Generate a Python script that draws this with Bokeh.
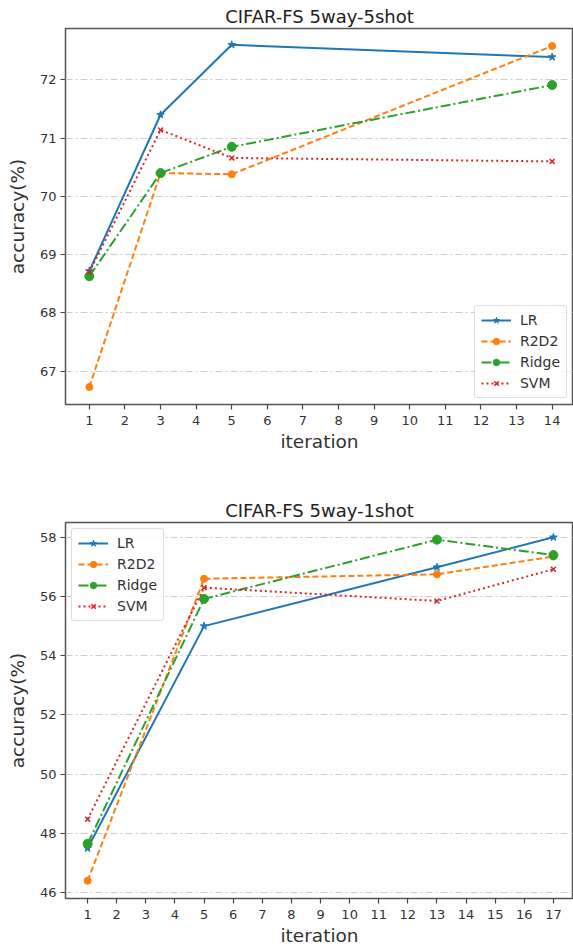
from bokeh.plotting import figure
from bokeh.layouts import column
from bokeh.models import FixedTicker, Range1d, Legend, LegendItem
from bokeh.embed import file_html
from bokeh.resources import INLINE

# ---- data ----
methods = ["LR", "R2D2", "Ridge", "SVM"]
colors = ["#1f77b4", "#ff7f0e", "#2ca02c", "#d62728"]
dashes = ["solid", "6 3", "10 3 2 3", "2 3"]
markers = ["star", "circle", "circle", "x"]
msizes = [8, 7, 9, 7]

x5 = [1, 3, 5, 14]
acc5_LR = [68.72, 71.40, 72.60, 72.39]
acc5_R2D2 = [66.73, 70.40, 70.38, 72.58]
acc5_Ridge = [68.63, 70.40, 70.85, 71.91]
acc5_SVM = [68.70, 71.14, 70.66, 70.60]
xticks5 = [1, 2, 3, 4, 5, 6, 7, 8, 9, 10, 11, 12, 13, 14]
yticks5 = [67, 68, 69, 70, 71, 72]

x1 = [1, 5, 13, 17]
acc1_LR = [47.50, 55.00, 56.99, 58.00]
acc1_R2D2 = [46.40, 56.60, 56.75, 57.35]
acc1_Ridge = [47.65, 55.92, 57.92, 57.40]
acc1_SVM = [48.48, 56.30, 55.85, 56.92]
xticks1 = [1, 2, 3, 4, 5, 6, 7, 8, 9, 10, 11, 12, 13, 14, 15, 16, 17]
yticks1 = [46, 48, 50, 52, 54, 56, 58]

FONT = "DejaVu Sans"


def make(title, xs, series, xticks, yticks, xr, yr, h, mb_top, mb_bot, legend_loc):
    p = figure(width=573, height=h, output_backend="svg", toolbar_location=None,
               x_range=Range1d(*xr), y_range=Range1d(*yr), title=title,
               min_border_left=65, min_border_right=0,
               min_border_top=mb_top, min_border_bottom=mb_bot)
    p.title.align = "center"
    p.title.text_font = FONT
    p.title.text_font_style = "normal"
    p.title.text_font_size = "18px"
    p.title.text_color = "#222222"
    p.title.standoff = 3
    p.title.offset = 0
    p.outline_line_color = "#555555"
    p.outline_line_width = 1.5
    p.xgrid.visible = False
    p.ygrid.grid_line_color = "#cccccc"
    p.ygrid.grid_line_dash = "7 3 2 3"
    p.ygrid.grid_line_width = 1
    p.ygrid.ticker = FixedTicker(ticks=yticks)
    p.xaxis.ticker = FixedTicker(ticks=xticks)
    p.yaxis.ticker = FixedTicker(ticks=yticks)
    for ax in (p.xaxis, p.yaxis):
        ax.axis_line_color = None
        ax.major_tick_line_color = "#444444"
        ax.major_tick_line_width = 1.2
        ax.major_tick_in = 0
        ax.major_tick_out = 5
        ax.minor_tick_line_color = None
        ax.major_label_text_font = FONT
        ax.major_label_text_font_size = "13px"
        ax.major_label_text_color = "#333333"
        ax.axis_label_text_font = FONT
        ax.axis_label_text_font_style = "normal"
        ax.axis_label_text_font_size = "18.5px"
        ax.axis_label_text_color = "#333333"
    p.xaxis.major_label_standoff = 6
    p.xaxis.axis_label_standoff = 3
    p.yaxis.major_label_standoff = 4
    p.yaxis.axis_label_standoff = 9
    p.xaxis.axis_label = "iteration"
    p.yaxis.axis_label = "accuracy(%)"

    items = []
    for name, ys, c, d, m, s in zip(methods, series, colors, dashes, markers, msizes):
        ln = p.line(xs, ys, line_color=c, line_dash=d, line_width=2)
        if m == "x":
            sc = p.scatter(xs, ys, marker=m, size=s, line_color=c, line_width=1.5)
        else:
            sc = p.scatter(xs, ys, marker=m, size=s, fill_color=c, line_color=c)
        items.append(LegendItem(label=name, renderers=[ln, sc]))
    leg = Legend(items=items, location=legend_loc)
    leg.label_text_font = FONT
    leg.label_text_font_size = "14px"
    leg.label_text_color = "#333333"
    leg.glyph_width = 30
    leg.glyph_height = 16
    leg.label_height = 16
    leg.label_standoff = 9
    leg.spacing = 5
    leg.padding = 6
    leg.margin = 6
    leg.border_line_color = "#dddddd"
    leg.border_line_alpha = 1
    leg.border_radius = 3
    leg.background_fill_alpha = 0.85
    p.add_layout(leg)
    return p


p1 = make("CIFAR-FS 5way-5shot", x5, [acc5_LR, acc5_R2D2, acc5_Ridge, acc5_SVM],
          xticks5, yticks5, (0.33, 14.6), (66.43, 72.88), 470, 28, 66, "bottom_right")
p2 = make("CIFAR-FS 5way-1shot", x1, [acc1_LR, acc1_R2D2, acc1_Ridge, acc1_SVM],
          xticks1, yticks1, (0.24, 17.69), (45.8, 58.5), 478, 52, 48, "top_left")

layout = column(p1, p2, spacing=0)
open("out.html", "w").write(file_html(layout, INLINE))
